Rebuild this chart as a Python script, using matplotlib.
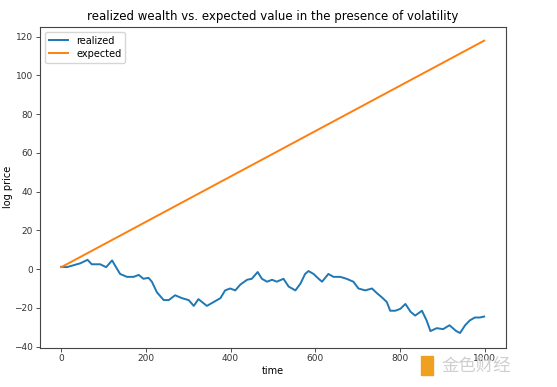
import matplotlib.pyplot as plt
from matplotlib.patches import Rectangle

# realized log price at irregular time points
realized_t = [0, 13, 29, 45, 62, 72, 92, 106, 120, 128, 139, 155, 171, 183, 194, 206, 214,
              226, 242, 254, 269, 285, 301, 313, 324, 344, 360, 376, 387, 399, 411, 423,
              439, 450, 464, 474, 486, 498, 509, 525, 537, 553, 565, 576, 584, 596, 608,
              616, 631, 643, 659, 674, 690, 702, 718, 734, 746, 757, 769, 777, 789, 801,
              813, 825, 836, 852, 863, 872, 887, 902, 917, 933, 942, 954, 965, 977, 989, 999]
realized_v = [1.2, 1.0, 2.0, 3.0, 4.8, 2.5, 2.5, 1.0, 4.5, 1.5, -2.5, -4.0, -4.0, -3.0, -5.0,
              -4.5, -6.5, -12.0, -16.0, -16.0, -13.5, -15.0, -16.0, -19.0, -15.5, -19.0,
              -17.0, -15.0, -11.0, -10.0, -11.0, -8.0, -5.5, -5.0, -1.5, -5.0, -6.5, -5.5,
              -6.5, -5.0, -9.0, -11.0, -7.5, -2.5, -1.0, -2.5, -5.0, -6.5, -2.5, -4.0, -4.0,
              -5.0, -6.5, -10.0, -11.0, -10.0, -12.5, -14.5, -17.0, -21.5, -21.5, -20.5,
              -18.0, -22.0, -24.0, -21.5, -26.5, -32.0, -30.5, -31.0, -29.0, -32.0, -33.0,
              -29.0, -26.5, -25.0, -25.0, -24.5]

# expected log price: straight line
expected_t = [0, 999]
expected_v = [1.0, 118.0]

fig = plt.figure(figsize=(5.57, 3.87), dpi=100)
ax = fig.add_axes([0.072, 0.102, 0.836, 0.828])

ax.plot(realized_t, realized_v, color="#1f77b4", lw=1.4, label="realized")
ax.plot(expected_t, expected_v, color="#ff7f0e", lw=1.4, label="expected")

ax.set_xlim(-50, 1050)
ax.set_ylim(-40.5, 125)
ax.set_xticks([0, 200, 400, 600, 800, 1000])
ax.set_yticks([-40, -20, 0, 20, 40, 60, 80, 100, 120])
ax.tick_params(labelsize=6.5, length=3, width=0.6, pad=2, colors="#333333")
for s in ax.spines.values():
    s.set_linewidth(0.8)
    s.set_color("#444444")

ax.set_title("realized wealth vs. expected value in the presence of volatility", fontsize=8.5, pad=5)
ax.set_xlabel("time", fontsize=7, labelpad=2)
ax.set_ylabel("log price", fontsize=7, labelpad=1)
ax.legend(loc="upper left", fontsize=7, handlelength=2, borderpad=0.4, labelspacing=0.3)

# watermark
fig.patches.append(Rectangle((0.756, 0.031), 0.022, 0.05, transform=fig.transFigure,
                             color="#f0a020", zorder=5))
fig.text(0.793, 0.054, "金色财经", fontsize=12.5, color="#cfcfcf", va="center",
         family=["Noto Sans CJK SC", "DejaVu Sans"], zorder=6)

fig.savefig("out.png", dpi=100)
